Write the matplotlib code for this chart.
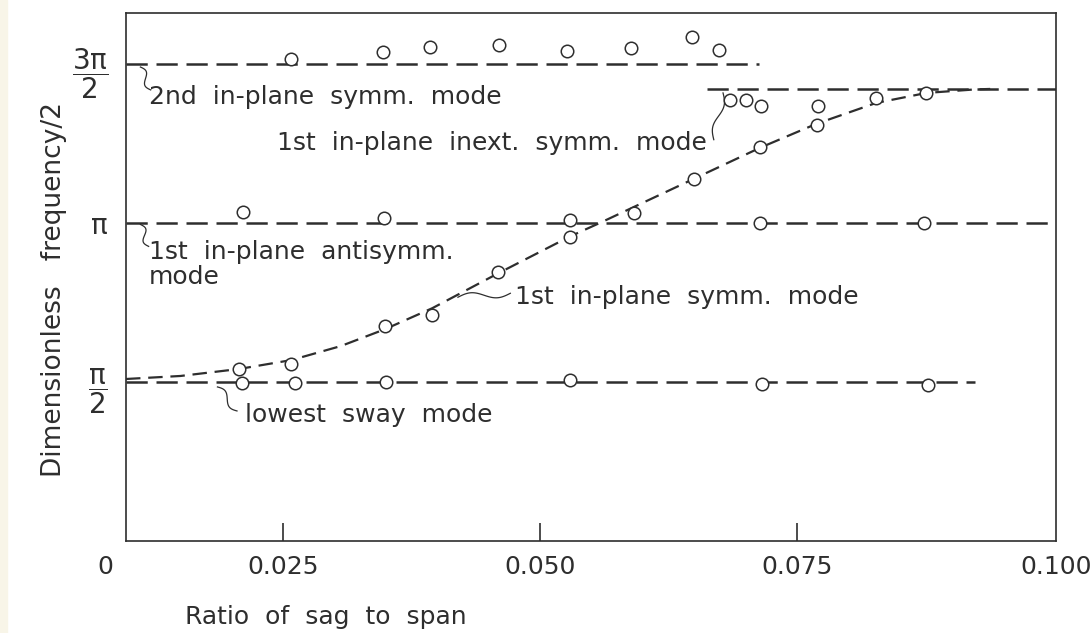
import numpy as np
import matplotlib
matplotlib.use("Agg")
from matplotlib import pyplot as plt
from matplotlib.patches import Rectangle

INK = "#2e2e2e"
plt.rcParams["font.family"] = ["DejaVu Sans"]
plt.rcParams["mathtext.fontset"] = "dejavusans"

# y values are in units of pi/2 (the tick labels are pi/2, pi, 3pi/2)
X_LEFT = 0.0097
X_RIGHT = 0.1002

# 2nd in-plane symm. mode
second_x = [0.0258, 0.0347, 0.0393, 0.0460, 0.0526, 0.0588, 0.0648, 0.0674]
second_y = [3.031, 3.075, 3.107, 3.119, 3.082, 3.100, 3.169, 3.088]
second_line_end = 0.0713

# 1st in-plane inext. symm. mode
inext_x = [0.0685, 0.0700, 0.0715, 0.0770]
inext_y = [2.774, 2.774, 2.737, 2.737]
inext_level = 2.843
inext_line_start = 0.0662

# 1st in-plane antisymm. mode
anti_x = [0.0211, 0.0348, 0.0529, 0.0591, 0.0714, 0.0874]
anti_y = [2.072, 2.034, 2.016, 2.066, 2.003, 2.003]

# 1st in-plane symm. mode (measured points + theory curve)
symm_x = [0.0207, 0.0258, 0.0349, 0.0395, 0.0459, 0.0529, 0.0650, 0.0714, 0.0769, 0.0827, 0.0876]
symm_y = [1.082, 1.113, 1.351, 1.420, 1.690, 1.915, 2.279, 2.480, 2.618, 2.787, 2.818]
curve_x = [0.0097, 0.0150, 0.0207, 0.0258, 0.0306, 0.0349, 0.0395, 0.0459, 0.0529,
           0.0561, 0.0650, 0.0714, 0.0769, 0.0827, 0.0876, 0.0923, 0.0938]
curve_y = [1.019, 1.038, 1.082, 1.138, 1.226, 1.332, 1.464, 1.683, 1.915,
           2.009, 2.279, 2.473, 2.624, 2.755, 2.818, 2.840, 2.843]

# lowest sway mode
sway_x = [0.0210, 0.0261, 0.0350, 0.0529, 0.0716, 0.0877]
sway_y = [0.994, 0.994, 1.000, 1.013, 0.987, 0.981]
sway_line_end = 0.0923

xticks = [0.025, 0.050, 0.075]
xtick_labels = ["0.025", "0.050", "0.075"]
yticks = [1, 2, 3]
ytick_labels = [r"$\dfrac{\mathrm{\pi}}{2}$", r"$\mathrm{\pi}$", r"$\dfrac{3\mathrm{\pi}}{2}$"]

fig = plt.figure(figsize=(10.92, 6.33), dpi=100)
fig.patches.append(Rectangle((0, 0), 0.006, 1, transform=fig.transFigure,
                             color="#f8f5e8", zorder=-5))
ax = fig.add_axes([0.1154, 0.1453, 0.8516, 0.834])
ax.set_xlim(X_LEFT, X_RIGHT)
ax.set_ylim(0, 3.32)

line_kw = dict(color=INK, lw=1.8, linestyle=(0, (8.5, 3.5)), zorder=2)
pt_kw = dict(linestyle="none", marker="o", ms=9, mfc="white", mec=INK, mew=1.1, zorder=4)

ax.plot([X_LEFT, second_line_end], [3, 3], **line_kw)
ax.plot([inext_line_start, X_RIGHT], [inext_level, inext_level], **line_kw)
ax.plot([X_LEFT, X_RIGHT], [2, 2], **line_kw)
ax.plot([X_LEFT, sway_line_end], [1, 1], **line_kw)
ax.plot(curve_x, curve_y, color=INK, lw=1.6, linestyle=(0, (6.5, 3.5)), zorder=2)

for xs, ys in [(second_x, second_y), (inext_x, inext_y), (anti_x, anti_y),
               (symm_x, symm_y), (sway_x, sway_y)]:
    ax.plot(xs, ys, **pt_kw)


def squiggle(p0, p1, amp=3.5):
    # small hand-drawn looking S leader between two points
    a = ax.transData.transform(p0)
    b = ax.transData.transform(p1)
    t = np.linspace(0, 1, 50)
    d = b - a
    n = np.array([-d[1], d[0]]) / np.hypot(*d)
    pts = a + t[:, None] * d + (amp * np.sin(2 * np.pi * t))[:, None] * n
    xs, ys = ax.transData.inverted().transform(pts).T
    ax.plot(xs, ys, color=INK, lw=0.9, zorder=3)


FS = 18
txt_kw = dict(fontsize=FS, color=INK, va="center")
ax.text(0.0119, 2.793, "2nd  in-plane  symm.  mode", ha="left", **txt_kw)
ax.text(0.0662, 2.505, "1st  in-plane  inext.  symm.  mode", ha="right", **txt_kw)
ax.text(0.0119, 1.815, "1st  in-plane  antisymm.", ha="left", **txt_kw)
ax.text(0.0119, 1.658, "mode", ha="left", **txt_kw)
ax.text(0.0476, 1.533, "1st  in-plane  symm.  mode", ha="left", **txt_kw)
ax.text(0.0213, 0.793, "lowest  sway  mode", ha="left", **txt_kw)

squiggle((0.0111, 2.981), (0.0121, 2.837))
squiggle((0.0111, 1.991), (0.0119, 1.853))
squiggle((0.0678, 2.818), (0.0669, 2.524))
squiggle((0.0420, 1.533), (0.0471, 1.558))
squiggle((0.0186, 0.969), (0.0205, 0.818))

ax.set_xticks(xticks)
ax.set_xticklabels(xtick_labels)
ax.set_yticks(yticks)
ax.set_yticklabels(ytick_labels)
ax.tick_params(axis="x", direction="in", length=13, width=1.2, color=INK,
               pad=10, labelsize=FS, labelcolor=INK)
ax.tick_params(axis="y", length=0, pad=13, labelsize=20, labelcolor=INK)
for s in ax.spines.values():
    s.set_linewidth(1.2)
    s.set_color(INK)

fig.text(105 / 1092, 1 - 567 / 633, "0", ha="center", va="center", fontsize=FS, color=INK)
fig.text(1056 / 1092, 1 - 567 / 633, "0.100", ha="center", va="center", fontsize=FS, color=INK)
fig.text(185 / 1092, 1 - 617 / 633, "Ratio  of  sag  to  span", ha="left", va="center",
         fontsize=FS, color=INK)
fig.text(54 / 1092, 1 - 290 / 633, "Dimensionless   frequency/2", rotation=90,
         ha="center", va="center", fontsize=19, color=INK)

fig.savefig("out.png", dpi=100, facecolor="white")
